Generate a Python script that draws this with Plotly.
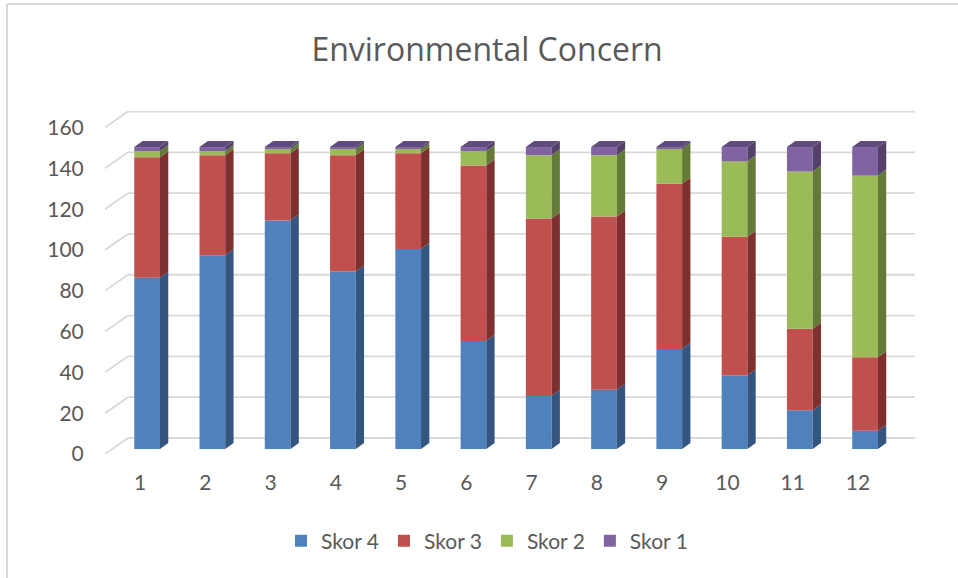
import numpy as np
import plotly.graph_objects as go

# ---------------- data ----------------
categories = ["1", "2", "3", "4", "5", "6", "7", "8", "9", "10", "11", "12"]
skor4 = [84, 95, 112, 87, 98, 53, 26, 29, 49, 36, 19, 9]
skor3 = [59, 49, 33, 57, 47, 86, 87, 85, 81, 68, 40, 36]
skor2 = [3, 2, 2, 3, 2, 7, 31, 30, 17, 37, 77, 89]
skor1 = [2, 2, 1, 1, 1, 2, 4, 4, 1, 7, 12, 14]
series_names = ["Skor 4", "Skor 3", "Skor 2", "Skor 1"]
y_ticks = [0, 20, 40, 60, 80, 100, 120, 140, 160]

# ---------------- style ----------------
front_colors = ["#4f81bd", "#c0504d", "#9bbb59", "#8064a2"]
side_colors = ["#34557f", "#7e302e", "#647a37", "#54416b"]
top_color = "#5f4b7c"
grid_color = "#d9d9d9"
text_color = "#595959"
FONT = "Lato"

# 3D oblique projection parameters (in axis units)
DX, DY = 0.352, 7.85          # full depth of the floor / walls
D0 = 0.31                     # depth of bar front face
BW = 0.394                    # bar front width
SDX, SDY = 0.127, 2.95        # bar depth

X0, X1 = 0.4638, 12.874
Y0, Y1 = 0.0, 168.1

pos = np.arange(1, len(categories) + 1, dtype=float)
xc = pos + DX * D0
yoff = DY * D0

fig = go.Figure()

data = [skor4, skor3, skor2, skor1]
cum = np.zeros(len(categories))
segments = []
for k, vals in enumerate(data):
    vals = np.array(vals, dtype=float)
    base = cum + yoff
    fig.add_trace(go.Bar(x=xc, y=vals, base=base, width=BW, name=series_names[k],
                         marker=dict(color=front_colors[k], line=dict(width=0)),
                         hoverinfo="name+y"))
    segments.append((base, base + vals))
    cum = cum + vals

# side faces
for k, (b, t) in enumerate(segments):
    xs, ys = [], []
    for i in range(len(categories)):
        xr = xc[i] + BW / 2
        xs += [xr, xr + SDX, xr + SDX, xr, xr, None]
        ys += [b[i], b[i] + SDY, t[i] + SDY, t[i], b[i], None]
    fig.add_trace(go.Scatter(x=xs, y=ys, mode="lines", fill="toself",
                             fillcolor=side_colors[k], line=dict(width=0, color=side_colors[k]),
                             showlegend=False, hoverinfo="skip"))

# top faces
tops = segments[-1][1]
xs, ys = [], []
for i in range(len(categories)):
    xl = xc[i] - BW / 2
    xr = xc[i] + BW / 2
    T = tops[i]
    xs += [xl, xr, xr + SDX, xl + SDX, xl, None]
    ys += [T, T, T + SDY, T + SDY, T, None]
fig.add_trace(go.Scatter(x=xs, y=ys, mode="lines", fill="toself", fillcolor=top_color,
                         line=dict(width=0, color=top_color), showlegend=False, hoverinfo="skip"))

# gridlines on side and back walls
shapes = []
for v in y_ticks:
    shapes.append(dict(type="line", xref="x", yref="y", x0=X0, y0=v, x1=X0 + DX, y1=v + DY,
                       line=dict(color=grid_color, width=1.8), layer="below"))
    shapes.append(dict(type="line", xref="x", yref="y", x0=X0 + DX, y0=v + DY, x1=X1, y1=v + DY,
                       line=dict(color=grid_color, width=1.8), layer="below"))

# chart frame (left and top border)
L, R, T_, B_ = 105, 915, 111, 454
W, H = R - L, B_ - T_
def px(xp): return (xp - L) / W
def py(yp): return (B_ - yp) / H
shapes.append(dict(type="line", xref="paper", yref="paper", x0=px(7), y0=py(4), x1=px(7), y1=py(578),
                   line=dict(color="#d9d9d9", width=2)))
shapes.append(dict(type="line", xref="paper", yref="paper", x0=px(7), y0=py(4), x1=px(958), y1=py(4),
                   line=dict(color="#d9d9d9", width=2)))

fig.update_layout(
    width=958, height=578,
    margin=dict(l=L, r=958 - R, t=T_, b=578 - B_, pad=0),
    paper_bgcolor="white", plot_bgcolor="white",
    barmode="overlay",
    showlegend=True,
    shapes=shapes,
    title=dict(text="Environmental Concern", x=487 / 958, xref="container", xanchor="center",
               y=1 - 50 / 578, yref="container", yanchor="middle",
               font=dict(family="Open Sans", size=32, color=text_color)),
    legend=dict(orientation="h", x=487 / 958, xanchor="center", xref="container",
                y=1 - 541 / 578, yanchor="middle", yref="container",
                font=dict(family=FONT, size=21, color=text_color),
                traceorder="normal", itemwidth=30),
    xaxis=dict(range=[X0, X1], tickvals=list(pos), ticktext=categories, showgrid=False,
               zeroline=False, showline=False, ticks="outside", ticklen=10,
               tickcolor="rgba(0,0,0,0)", tickfont=dict(family=FONT, size=21, color=text_color),
               fixedrange=True),
    yaxis=dict(range=[Y0, Y1], tickvals=y_ticks, showgrid=False, zeroline=False, showline=False,
               ticks="outside", ticklen=16, tickcolor="rgba(0,0,0,0)",
               tickfont=dict(family=FONT, size=21, color=text_color), fixedrange=True),
)

fig.write_html("out.html")
